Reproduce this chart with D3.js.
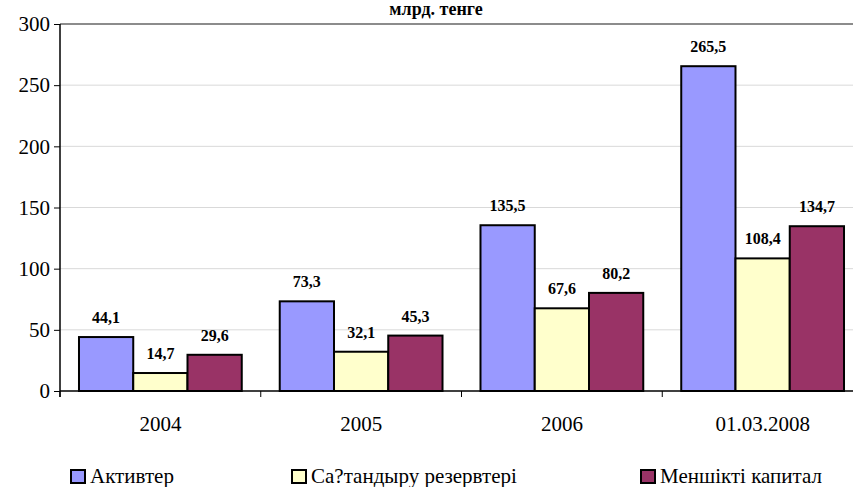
<!DOCTYPE html>
<html>
<head>
<meta charset="utf-8">
<script src="https://cdn.jsdelivr.net/npm/d3@7"></script>
<style>
body { margin: 0; background: #fff; }
</style>
</head>
<body>
<script>
var w = 853, h = 487;
var categories = ["2004", "2005", "2006", "01.03.2008"];
var seriesNames = ["Активтер", "Са?тандыру резервтері", "Меншікті капитал"];
var aktivter = [44.1, 73.3, 135.5, 265.5];
var reserv = [14.7, 32.1, 67.6, 108.4];
var kapital = [29.6, 45.3, 80.2, 134.7];
var yTicks = [0, 50, 100, 150, 200, 250, 300];
var colors = ["#9999FF", "#FFFFCC", "#993366"];

var series = [aktivter, reserv, kapital];
var serif = "'Liberation Serif', 'Times New Roman', serif";

var svg = d3.select("body").append("svg")
    .attr("width", w)
    .attr("height", h)
    .attr("font-family", serif);

// plot area runs a bit past the right edge, like the original
var x = d3.scaleBand().domain(categories).range([60, 863]).paddingInner(0).paddingOuter(0);
var xs = d3.scaleBand().domain([0, 1, 2]).range([0, x.bandwidth()]).paddingOuter(0.35).paddingInner(0);
var y = d3.scaleLinear().domain([0, 300]).range([391, 24]);

// gridlines
svg.append("g").selectAll("line")
    .data(yTicks.filter(function(d){ return d > 0 && d < 300; }))
    .enter().append("line")
    .attr("x1", 60).attr("x2", 863)
    .attr("y1", function(d){ return y(d); })
    .attr("y2", function(d){ return y(d); })
    .attr("stroke", "#d9d9d9")
    .attr("stroke-width", 1);
svg.append("line")
    .attr("x1", 60).attr("x2", 863)
    .attr("y1", y(300)).attr("y2", y(300))
    .attr("stroke", "#8c8c8c")
    .attr("stroke-width", 2);

// bars
var groups = svg.selectAll(".grp")
    .data(categories)
    .enter().append("g")
    .attr("class", "grp")
    .attr("transform", function(d){ return "translate(" + x(d) + ",0)"; });

groups.selectAll("rect")
    .data(function(d, i){ return series.map(function(s, j){ return {k: j, v: s[i]}; }); })
    .enter().append("rect")
    .attr("x", function(d){ return xs(d.k); })
    .attr("width", xs.bandwidth())
    .attr("y", function(d){ return y(d.v); })
    .attr("height", function(d){ return y(0) - y(d.v); })
    .attr("fill", function(d){ return colors[d.k]; })
    .attr("stroke", "#000")
    .attr("stroke-width", 2);

groups.selectAll(".val")
    .data(function(d, i){ return series.map(function(s, j){ return {k: j, v: s[i]}; }); })
    .enter().append("text")
    .attr("class", "val")
    .attr("x", function(d){ return xs(d.k) + xs.bandwidth() / 2; })
    .attr("y", function(d){ return y(d.v) - 14; })
    .attr("text-anchor", "middle")
    .style("font-size", "16px")
    .style("font-weight", "bold")
    .text(function(d){ return d3.format(".1f")(d.v).replace(".", ","); });

// y axis
var yAxis = d3.axisLeft(y).tickValues(yTicks).tickSize(6).tickPadding(4);
var ya = svg.append("g")
    .attr("transform", "translate(60,0)")
    .call(yAxis)
    .attr("font-family", serif)
    .attr("font-size", 21);
ya.select(".domain").attr("stroke", "#000").attr("stroke-width", 1.5).attr("d", "M0," + y(300) + "V" + (y(0) + 6));
ya.selectAll("text").attr("fill", "#000");

// x axis
var xAxis = d3.axisBottom(x).tickSize(0).tickPadding(25);
var xa = svg.append("g")
    .attr("transform", "translate(0," + y(0) + ")")
    .call(xAxis)
    .attr("font-family", serif)
    .attr("font-size", 21);
xa.select(".domain").attr("stroke", "#000").attr("stroke-width", 1.5).attr("d", "M60,0H863");
xa.selectAll("text").attr("fill", "#000");
xa.selectAll(".sep")
    .data(categories)
    .enter().append("line")
    .attr("class", "sep")
    .attr("x1", function(d){ return x(d); })
    .attr("x2", function(d){ return x(d); })
    .attr("y1", 0).attr("y2", 6)
    .attr("stroke", "#000");

// title (cut at the top in the original, kept just inside here)
svg.append("text")
    .attr("x", 436)
    .attr("y", 15)
    .attr("text-anchor", "middle")
    .style("font-size", "18px")
    .style("font-weight", "bold")
    .text("млрд. тенге");

// legend
var legendX = [71, 292, 641];
var legend = svg.selectAll(".leg")
    .data(seriesNames)
    .enter().append("g")
    .attr("class", "leg")
    .attr("transform", function(d, i){ return "translate(" + legendX[i] + ",470)"; });
legend.append("rect")
    .attr("width", 14).attr("height", 13)
    .attr("fill", function(d, i){ return colors[i]; })
    .attr("stroke", "#000")
    .attr("stroke-width", 2);
legend.append("text")
    .attr("x", 19)
    .attr("y", 13)
    .style("font-size", "21px")
    .text(function(d){ return d; });
</script>
</body>
</html>
